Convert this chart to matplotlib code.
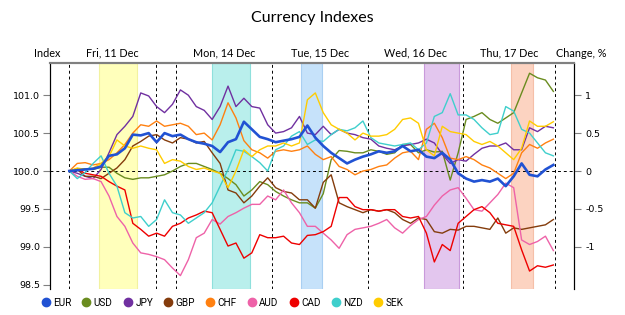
import numpy as np
import matplotlib
matplotlib.use("Agg")
import matplotlib.pyplot as plt
from matplotlib.lines import Line2D

plt.rcParams["axes.unicode_minus"] = False

# time axis in hours from Fri 11 Dec 00:00 (weekend compressed), one sample per 2 h
hours = np.arange(0, 124, 2)

eur = [100.0, 100.01, 100.02, 100.03, 100.06, 100.2, 100.22, 100.3, 100.48, 100.47, 100.5, 100.38, 100.5, 100.46, 100.48, 100.42,
       100.38, 100.36, 100.33, 100.25, 100.38, 100.42, 100.65, 100.55, 100.45, 100.42, 100.38, 100.4, 100.42, 100.45, 100.6,
       100.44, 100.33, 100.24, 100.17, 100.1, 100.15, 100.19, 100.22, 100.26, 100.24, 100.26, 100.33, 100.26, 100.28, 100.19, 100.17,
       100.24, 100.15, 99.97, 99.9, 99.86, 99.88, 99.86, 99.9, 99.8, 99.93, 100.1, 99.95, 99.93, 100.02, 100.08]
usd = [100.0, 100.03, 100.03, 100.02, 100.05, 100.05, 99.97, 99.91, 99.89, 99.91, 99.91, 99.93, 99.95, 100.0, 100.06, 100.1,
       100.1, 100.06, 100.02, 99.97, 99.9, 99.82, 99.67, 99.75, 99.86, 99.82, 99.73, 99.67, 99.62, 99.58, 99.58,
       99.51, 99.7, 100.15, 100.27, 100.26, 100.24, 100.24, 100.28, 100.26, 100.22, 100.24, 100.35, 100.35, 100.24, 100.28, 100.25,
       100.26, 99.88, 100.24, 100.68, 100.72, 100.77, 100.68, 100.63, 100.7, 100.77, 101.03, 101.29, 101.23, 101.2, 101.05]
jpy = [100.0, 99.97, 99.93, 99.9, 100.02, 100.24, 100.48, 100.59, 100.72, 101.03, 100.99, 100.85, 100.77, 100.88, 101.07, 101.0,
       100.85, 100.8, 100.68, 100.85, 101.12, 100.85, 100.96, 100.85, 100.83, 100.61, 100.5, 100.52, 100.57, 100.72, 100.5,
       100.48, 100.59, 100.48, 100.55, 100.5, 100.48, 100.44, 100.42, 100.33, 100.3, 100.28, 100.33, 100.35, 100.37, 100.42, 100.37,
       100.22, 100.1, 100.15, 100.13, 100.22, 100.3, 100.33, 100.33, 100.37, 100.28, 100.28, 100.57, 100.52, 100.59, 100.57]
gbp = [100.0, 100.02, 99.93, 99.93, 99.9, 99.97, 100.04, 100.15, 100.33, 100.39, 100.46, 100.48, 100.41, 100.37, 100.44, 100.42,
       100.37, 100.39, 100.24, 100.1, 99.75, 99.71, 99.58, 99.67, 99.8, 99.91, 99.78, 99.73, 99.71, 99.62, 99.62,
       99.51, 99.85, 99.95, 99.58, 99.53, 99.49, 99.45, 99.49, 99.47, 99.49, 99.45, 99.36, 99.31, 99.38, 99.36, 99.2,
       99.18, 99.23, 99.22, 99.27, 99.27, 99.25, 99.23, 99.38, 99.18, 99.25, 99.23, 99.25, 99.27, 99.29, 99.36]
chf = [100.0, 100.1, 100.11, 100.08, 100.1, 100.15, 100.24, 100.35, 100.5, 100.61, 100.59, 100.66, 100.59, 100.61, 100.63, 100.59,
       100.48, 100.5, 100.41, 100.61, 100.9, 100.7, 100.4, 100.28, 100.24, 100.17, 100.26, 100.28, 100.26, 100.28, 100.33,
       100.22, 100.15, 100.19, 100.06, 100.02, 99.95, 100.0, 100.02, 100.06, 100.08, 100.17, 100.24, 100.26, 100.15, 100.55, 100.63,
       100.44, 100.17, 100.15, 100.19, 100.15, 100.08, 100.04, 99.97, 99.9, 99.97, 100.24, 100.35, 100.3, 100.37, 100.42]
aud = [100.0, 99.93, 99.89, 99.9, 99.86, 99.67, 99.4, 99.27, 99.05, 98.92, 98.9, 98.87, 98.83, 98.72, 98.62, 98.83,
       99.12, 99.18, 99.36, 99.3, 99.4, 99.45, 99.51, 99.56, 99.56, 99.67, 99.62, 99.75, 99.58, 99.45, 99.27,
       99.27, 99.18, 99.09, 98.98, 99.16, 99.23, 99.25, 99.27, 99.31, 99.36, 99.25, 99.18, 99.28, 99.36, 99.4, 99.55,
       99.67, 99.75, 99.78, 99.64, 99.49, 99.47, 99.58, 99.69, 99.84, 99.78, 99.09, 99.03, 99.07, 99.14, 98.95]
cad = [100.0, 100.02, 99.97, 99.95, 99.93, 99.86, 99.8, 99.75, 99.31, 99.23, 99.14, 99.18, 99.14, 99.27, 99.31, 99.38,
       99.42, 99.47, 99.45, 99.23, 99.01, 99.05, 98.85, 98.92, 99.16, 99.12, 99.12, 99.14, 99.05, 99.03, 99.15,
       99.16, 99.2, 99.27, 99.65, 99.65, 99.53, 99.49, 99.49, 99.47, 99.49, 99.49, 99.4, 99.38, 99.4, 99.18, 98.8,
       99.03, 98.95, 99.31, 99.4, 99.49, 99.53, 99.45, 99.31, 99.29, 99.27, 98.96, 98.68, 98.75, 98.73, 98.76]
nzd = [100.0, 99.9, 99.98, 100.1, 100.2, 99.97, 99.8, 99.45, 99.38, 99.4, 99.27, 99.36, 99.62, 99.45, 99.42, 99.31,
       99.38, 99.45, 99.58, 99.8, 100.02, 100.28, 100.26, 100.19, 100.11, 100.0, 100.28, 100.33, 100.46, 100.52, 100.35,
       100.41, 100.39, 100.48, 100.55, 100.53, 100.57, 100.66, 100.44, 100.37, 100.35, 100.33, 100.35, 100.37, 100.28, 100.37, 100.72,
       100.77, 101.02, 100.74, 100.74, 100.68, 100.57, 100.48, 100.5, 100.85, 100.79, 100.55, 100.5, 100.37, 100.24, 100.2]
sek = [100.0, 100.04, 100.02, 100.04, 100.1, 100.19, 100.41, 100.33, 100.3, 100.33, 100.3, 100.28, 100.1, 100.15, 100.13, 100.06,
       100.02, 100.04, 100.0, 99.97, 99.78, 100.0, 100.28, 100.19, 100.28, 100.33, 100.33, 100.37, 100.33, 100.37, 100.94,
       101.03, 100.77, 100.61, 100.55, 100.5, 100.41, 100.5, 100.46, 100.46, 100.48, 100.55, 100.68, 100.7, 100.63, 100.28, 100.2,
       100.59, 100.52, 100.5, 100.48, 100.39, 100.35, 100.39, 100.33, 100.24, 100.15, 100.3, 100.66, 100.59, 100.59, 100.65]

names = ["EUR", "USD", "JPY", "GBP", "CHF", "AUD", "CAD", "NZD", "SEK"]
series = [eur, usd, jpy, gbp, chf, aud, cad, nzd, sek]
colors = ["#2152D3", "#6A8C1F", "#7030A0", "#843C0C", "#FF8010",
          "#EE62A8", "#EE0000", "#3FCFCC", "#FFCC00"]

# day boundaries (hours) and labels
day_bounds = [0, 21.8, 27, 51, 75.2, 99.1, 122.5]
day_labels = ["Fri, 11 Dec", "Mon, 14 Dec", "Tue, 15 Dec", "Wed, 16 Dec", "Thu, 17 Dec"]
day_spans = [(0, 21.8), (27, 51), (51, 75.2), (75.2, 99.1), (99.1, 122.5)]

# highlighted periods
bands = [(7.6, 17.1), (36.0, 45.6), (58.4, 63.6), (89.4, 98.3), (111.3, 116.9)]
band_colors = ["#FFFFBB", "#B9EFEC", "#C6E2FA", "#E3C6EE", "#FCD3C1"]
band_edges = ["#F2F2A0", "#8FE0DC", "#A9CFF2", "#C99ADB", "#F5BFA8"]

fig = plt.figure(figsize=(6.25, 3.15), dpi=100)
ax = fig.add_axes([0.08, 0.0825, 0.8384, 0.7175])

for (a, b), fc, ec in zip(bands, band_colors, band_edges):
    ax.axvspan(a, b, facecolor=fc, edgecolor=ec, lw=0.8, zorder=0)

for xb in day_bounds:
    ax.axvline(xb, color="black", ls=(0, (3, 3)), lw=0.7, zorder=1)
ax.axhline(100, color="black", ls=(0, (3, 3)), lw=0.7, zorder=1)

for name, vals, col in zip(names, series, colors):
    if name == "EUR":
        continue
    ax.plot(hours, vals, color=col, lw=1.0, zorder=2)
ax.plot(hours, eur, color=colors[0], lw=1.9, zorder=3)

ax.set_xlim(-4.87, 127.2)
ax.set_ylim(98.443, 101.425)
ax.set_xticks([])
ax.set_yticks([98.5, 99.0, 99.5, 100.0, 100.5, 101.0])
ax.set_yticklabels(["98.5", "99.0", "99.5", "100.0", "100.5", "101.0"])
ax.tick_params(axis="y", labelsize=6.8, length=5, color="#808080", pad=2)

ax2 = ax.twinx()
ax2.set_ylim(98.443 - 100, 101.425 - 100)
ax2.set_yticks([-1, -0.5, 0, 0.5, 1])
ax2.set_yticklabels(["-1", "-0.5", "0", "0.5", "1"])
ax2.tick_params(axis="y", labelsize=6.8, length=5, color="#808080", pad=3)

for a in (ax, ax2):
    a.spines["bottom"].set_visible(False)
    a.spines["top"].set_color("#808080")
    a.spines["top"].set_linewidth(1.5)
    a.spines["left"].set_linewidth(0.8)
    a.spines["right"].set_linewidth(0.8)

tr = ax.get_xaxis_transform()
for (a, b), lab in zip(day_spans, day_labels):
    ax.text((a + b) / 2, 1.044, lab, transform=tr, ha="center", va="center",
            fontsize=7.8, family="Lato")
ax.text(-0.006, 1.044, "Index", transform=ax.transAxes, ha="center", va="center",
        fontsize=7.8, family="Lato")
ax.text(1.013, 1.044, "Change, %", transform=ax.transAxes, ha="center", va="center",
        fontsize=7.8, family="Lato")

fig.text(0.5, 0.943, "Currency Indexes", ha="center", va="center",
         fontsize=11.5, family="Lato")

handles = [Line2D([0], [0], marker="o", ls="none", color=c, markersize=6)
           for c in colors]
fig.legend(handles, names, loc="center left", bbox_to_anchor=(0.068, 0.039),
           ncol=9, frameon=False, handlelength=0.6, handletextpad=0.45,
           columnspacing=1.2, prop={"family": "Roboto", "size": 7.2},
           borderaxespad=0, borderpad=0)

fig.savefig("out.png", dpi=100)
